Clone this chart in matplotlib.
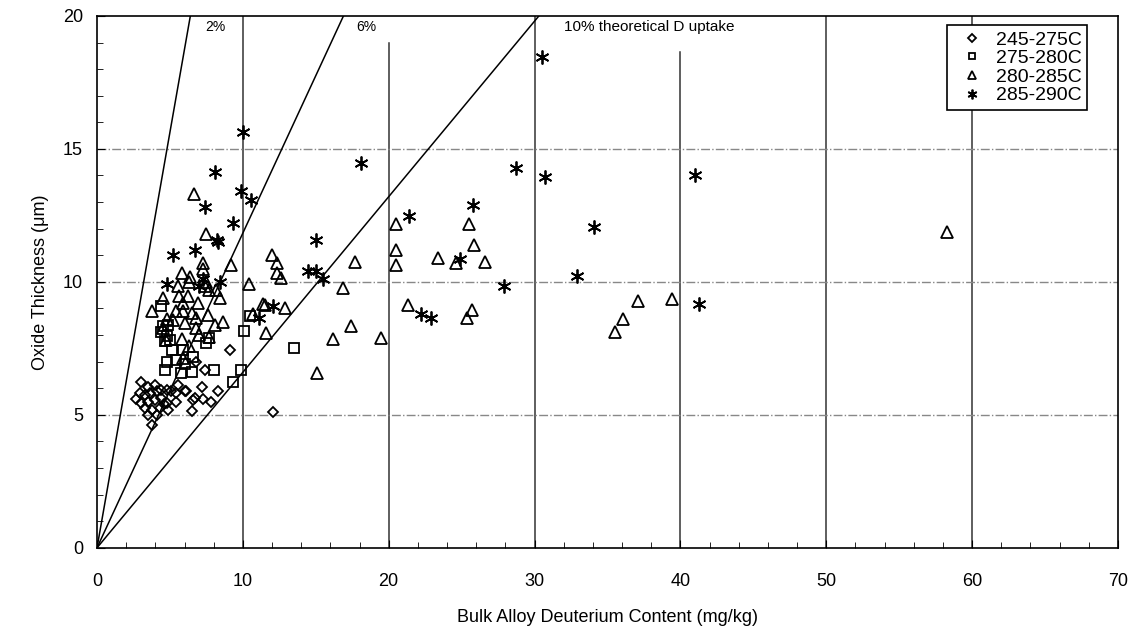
import matplotlib.pyplot as plt
from matplotlib.ticker import MultipleLocator

plt.rcParams['font.family'] = ['Liberation Sans', 'DejaVu Sans']

# 245-275C
d_x = [3.0, 3.5, 4.0, 2.7, 2.95, 3.3, 3.6, 4.1, 4.4, 4.8, 5.1, 5.45, 6.0, 7.2, 3.05, 3.5, 4.0,
       4.4, 4.8, 5.45, 6.6, 3.3, 3.75, 4.3, 4.9, 3.5, 4.1, 6.5, 3.75, 7.3, 7.85, 8.3, 9.1, 6.8,
       7.4, 12.1, 5.55, 6.1, 6.7, 4.6]
d_y = [6.25, 6.06, 6.13, 5.59, 5.82, 5.75, 5.82, 5.88, 5.94, 5.94, 5.88, 5.82, 5.88, 6.03, 5.44,
       5.5, 5.56, 5.63, 5.44, 5.5, 5.56, 5.25, 5.19, 5.25, 5.19, 5.0, 5.0, 5.13, 4.62, 5.59, 5.5,
       5.88, 7.44, 7.0, 6.7, 5.1, 6.13, 5.88, 5.63, 5.4]
# 275-280C
s_x = [4.36, 4.4, 4.9, 4.5, 4.8, 7.5, 10.07, 4.66, 5.16, 5.9, 4.77, 5.45, 6.6, 4.66, 5.75, 6.5,
       8.0, 9.9, 9.3, 10.5, 13.5, 7.7, 5.0, 6.0]
s_y = [9.1, 8.1, 8.38, 8.33, 7.97, 7.7, 8.17, 7.76, 7.44, 7.44, 7.0, 7.07, 7.19, 6.7, 6.57, 6.6,
       6.7, 6.7, 6.23, 8.7, 7.5, 7.89, 7.8, 6.9]
# 280-285C
t_x = [6.67, 7.5, 7.3, 7.3, 5.8, 6.3, 9.2, 5.57, 7.5, 7.4, 7.7, 8.15, 4.54, 5.6, 6.25, 8.4, 3.75,
       5.45, 5.9, 6.95, 5.9, 6.5, 7.6, 6.8, 5.2, 4.54, 6.0, 8.1, 8.65, 6.8, 5.8, 7.7, 10.4, 11.4,
       10.7, 11.6, 4.7, 5.9, 12.0, 12.35, 12.35, 12.65, 17.7, 20.5, 20.5, 20.5, 16.9, 11.5, 12.9,
       21.3, 17.4, 16.2, 19.45, 15.1, 25.5, 25.85, 23.4, 24.6, 26.6, 25.7, 25.4, 37.1, 39.4, 36.1,
       35.5, 58.3, 6.4, 7.0, 6.3, 4.8]
t_y = [13.3, 11.8, 10.7, 10.47, 10.33, 10.0, 10.64, 9.85, 10.0, 9.83, 9.7, 9.7, 9.38, 9.45, 9.45,
       9.38, 8.9, 8.9, 9.2, 9.2, 8.9, 8.82, 8.76, 8.64, 8.57, 8.26, 8.47, 8.38, 8.5, 8.26, 7.85,
       7.92, 9.92, 9.16, 8.8, 8.07, 7.8, 7.13, 11.0, 10.7, 10.35, 10.14, 10.73, 12.18, 11.2, 10.64,
       9.76, 9.14, 9.01, 9.14, 8.35, 7.85, 7.89, 6.59, 12.18, 11.37, 10.9, 10.7, 10.73, 8.95, 8.64,
       9.27, 9.35, 8.6, 8.1, 11.88, 10.2, 8.0, 7.6, 8.6]
# 285-290C
a_x = [30.5, 10.0, 8.1, 18.1, 28.7, 30.7, 41.0, 9.9, 10.55, 7.4, 9.3, 8.2, 8.3, 5.2, 6.7, 15.0,
       21.4, 25.8, 34.1, 4.8, 7.0, 8.4, 11.1, 14.5, 15.0, 15.5, 12.1, 24.9, 32.9, 27.9, 22.2, 22.9,
       41.25, 7.3]
a_y = [18.47, 15.63, 14.13, 14.46, 14.3, 13.94, 14.0, 13.4, 13.08, 12.83, 12.2, 11.58, 11.5, 11.0,
       11.18, 11.58, 12.46, 12.9, 12.08, 9.92, 9.83, 10.0, 8.65, 10.4, 10.4, 10.1, 9.1, 10.85, 10.23,
       9.83, 8.8, 8.64, 9.16, 10.1]

# uptake reference lines: x where each line reaches y=20
uptake_labels = ['2%', '6%', '10% theoretical D uptake']
uptake_top_x = [6.4, 16.9, 30.3]

fig = plt.figure(figsize=(11.28, 6.37), dpi=100)
ax = fig.add_axes([0.086, 0.140, 0.905, 0.835])

# grid
for gx, top in [(10, 20), (20, 19.0), (30, 20), (40, 18.65), (50, 20), (60, 20)]:
    ax.plot([gx, gx], [0, top], color='#333333', lw=1.1, zorder=1)
for gy in [5, 10, 15]:
    ax.axhline(gy, color='#888888', lw=1.0, ls='-.', zorder=1)

for tx in uptake_top_x:
    ax.plot([0, tx], [0, 20], color='black', lw=1.1, zorder=2)
ax.text(7.4, 19.45, uptake_labels[0], fontsize=10)
ax.text(17.8, 19.45, uptake_labels[1], fontsize=10)
ax.text(32.0, 19.45, uptake_labels[2], fontsize=11)

mk = dict(mfc='none', mec='black', ls='none', mew=1.3, zorder=3)
ax.plot(d_x, d_y, marker='D', ms=5.5, label='245-275C', **mk)
ax.plot(s_x, s_y, marker='s', ms=7, label='275-280C', **mk)
ax.plot(t_x, t_y, marker='^', ms=8, label='280-285C', **mk)
ax.plot(a_x, a_y, marker=(6, 2, 0), ms=10, label='285-290C', **mk)

leg = ax.legend(loc='upper right', bbox_to_anchor=(0.974, 0.99), fontsize=14,
                frameon=True, fancybox=False, edgecolor='black', framealpha=1,
                handletextpad=0.2, borderpad=0.3, borderaxespad=0.2, labelspacing=0.05,
                handlelength=2.0, markerscale=0.7)
leg.get_frame().set_linewidth(1.2)

ax.set_xlim(0, 70)
ax.set_ylim(0, 20)
ax.xaxis.set_major_locator(MultipleLocator(10))
ax.xaxis.set_minor_locator(MultipleLocator(2))
ax.yaxis.set_major_locator(MultipleLocator(5))
ax.yaxis.set_minor_locator(MultipleLocator(1))
ax.tick_params(which='both', direction='in', labelsize=13)
ax.tick_params(which='major', length=6)
ax.tick_params(which='minor', length=4)
ax.tick_params(axis='x', pad=18)
ax.tick_params(axis='y', pad=10)
for sp in ax.spines.values():
    sp.set_linewidth(1.2)

ax.set_xlabel('Bulk Alloy Deuterium Content (mg/kg)', fontsize=13, labelpad=14)
ax.set_ylabel('Oxide Thickness (\u03bcm)', fontsize=13, labelpad=10)

fig.savefig('out.png', dpi=100)
